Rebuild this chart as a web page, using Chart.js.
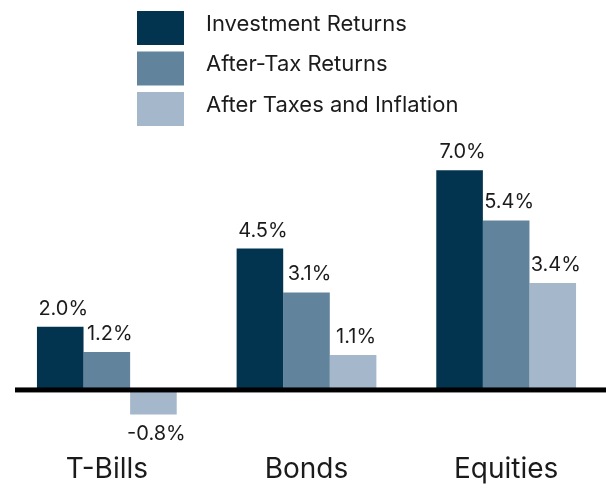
<!DOCTYPE html>
<html>
<head>
<meta charset="utf-8">
<script src="https://cdn.jsdelivr.net/npm/chart.js@4"></script>
<style>
  html, body { margin: 0; padding: 0; background: #fff; }
  #wrap { width: 606px; height: 489px; }
</style>
</head>
<body>
<div id="wrap"><canvas id="grafico"></canvas></div>
<script>
var categorias = ['T-Bills', 'Bonds', 'Equities'];
var investmentReturns = [2.0, 4.5, 7.0];
var afterTaxReturns = [1.2, 3.1, 5.4];
var afterTaxesInflation = [-0.8, 1.1, 3.4];

var fonte = 'Inter, "Noto Sans", sans-serif';
var corTexto = '#1b1b1b';

// rótulos de valor em cima / embaixo das barras
var rotulos = {
    id: 'rotulos',
    afterDatasetsDraw: function(chart) {
        var ctx = chart.ctx;
        ctx.save();
        ctx.font = '20px ' + fonte;
        ctx.fillStyle = corTexto;
        ctx.textAlign = 'center';
        chart.data.datasets.forEach(function(ds, i) {
            chart.getDatasetMeta(i).data.forEach(function(bar, j) {
                var v = ds.data[j];
                var txt = v.toFixed(1) + '%';
                if (v >= 0) {
                    ctx.textBaseline = 'alphabetic';
                    ctx.fillText(txt, bar.x + 3, bar.y - 12);
                } else {
                    ctx.textBaseline = 'top';
                    ctx.fillText(txt, bar.x + 3, bar.y + 9);
                }
            });
        });
        ctx.restore();
    }
};

// linha do zero
var linhaZero = {
    id: 'linhaZero',
    afterDatasetsDraw: function(chart) {
        var ctx = chart.ctx;
        var y = chart.scales.y.getPixelForValue(0);
        ctx.save();
        ctx.fillStyle = '#000';
        ctx.fillRect(15, y - 2, chart.width - 15, 5);
        ctx.restore();
    }
};

// legenda vertical no topo
var legenda = {
    id: 'legenda',
    afterDraw: function(chart) {
        var ctx = chart.ctx;
        ctx.save();
        ctx.font = '22px ' + fonte;
        ctx.textBaseline = 'middle';
        ctx.textAlign = 'left';
        chart.data.datasets.forEach(function(ds, i) {
            var y0 = 11 + i * 40.5;
            ctx.fillStyle = ds.backgroundColor;
            ctx.fillRect(137, y0, 47, 34);
            ctx.fillStyle = corTexto;
            ctx.fillText(ds.label, 206, y0 + 13);
        });
        ctx.restore();
    }
};

new Chart(document.getElementById('grafico').getContext('2d'), {
    type: 'bar',
    data: {
        labels: categorias,
        datasets: [{
            label: 'Investment Returns',
            data: investmentReturns,
            backgroundColor: '#03344f'
        },
        {
            label: 'After-Tax Returns',
            data: afterTaxReturns,
            backgroundColor: '#62839c'
        },
        {
            label: 'After Taxes and Inflation',
            data: afterTaxesInflation,
            backgroundColor: '#a4b7cb'
        }]
    },
    options: {
        responsive: true,
        maintainAspectRatio: false,
        animation: false,
        categoryPercentage: 0.7,
        barPercentage: 1.0,
        layout: {
            padding: { left: 7, right: 0, top: 139, bottom: -13 }
        },
        scales: {
            x: {
                grid: { display: false, drawTicks: false },
                border: { display: false },
                ticks: {
                    padding: 16,
                    color: corTexto,
                    font: { family: fonte, size: 28 }
                }
            },
            y: {
                display: false,
                min: -1.5,
                max: 8
            }
        },
        plugins: {
            legend: { display: false },
            tooltip: { enabled: false }
        }
    },
    plugins: [linhaZero, rotulos, legenda]
});
</script>
</body>
</html>
